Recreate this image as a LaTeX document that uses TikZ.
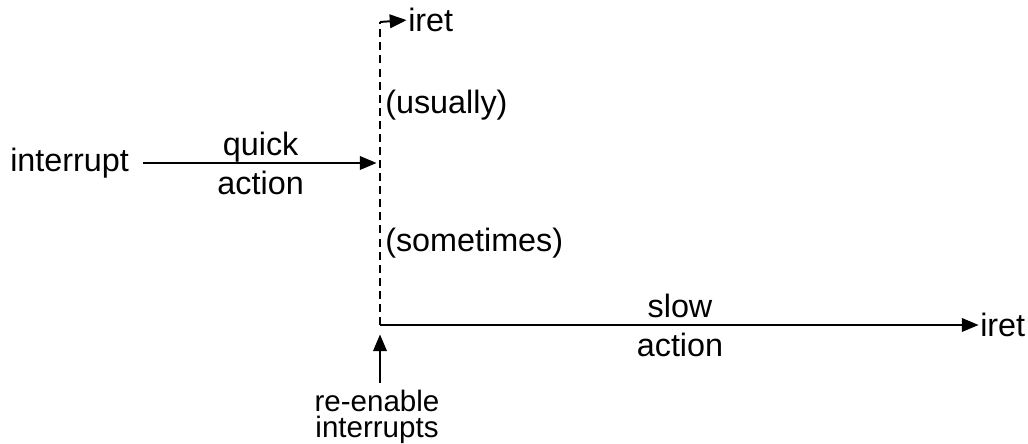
\documentclass[tikz,border=0pt]{standalone}
\usepackage{fontspec}
\setmainfont{Liberation Sans}
\usetikzlibrary{arrows.meta}

\begin{document}
\begin{tikzpicture}[x=0.025cm, y=-0.025cm,
    label/.style ={font=\fontsize{23}{20.5}\selectfont, inner sep=0pt},
    tag/.style ={label, text height=0.42cm, text depth=0.12cm},
    note/.style ={font=\fontsize{21}{18.5}\selectfont, inner sep=0pt, align=center},
    flow/.style ={line width=1.4pt, shorten >=1pt, -{Triangle[length=0.42cm, width=0.34cm]}},
    split/.style ={line width=1.4pt, dash pattern=on 5.7pt off 3.6pt}]
   \useasboundingbox (0,0) rectangle (1028,444);
   \node[label, anchor=west] (interrupt) at (10,163) {interrupt};
   \coordinate (Q) at (378,163);
   \coordinate (top) at (380,22);
   \coordinate (bot) at (380,325);
   \node[label, anchor=west] (iretA) at (408,20) {iret};
   \node[label, anchor=west] (iretB) at (980,325) {iret};
   \node[label, anchor=west] (usually) at (385,105) {(usually)};
   \node[label, anchor=west] (sometimes) at (385,243) {(sometimes)};
   \node[note, anchor=north] (reenable) at (377,390) {re-enable\\interrupts};
   \draw[flow] (reenable.north) ++(3,-7) -- ++(0,-50);
   \draw[flow] (interrupt.east) ++(14,0) -- node[tag, above=0.05cm] {quick} node[tag, below=0.35cm] {action} (Q);
   \draw[split] (bot) -- (top);
   \draw[flow] (top) -- (iretA.west);
   \draw[flow] (bot) -- node[tag, above=0.05cm] {slow} node[tag, below=0.35cm] {action} (iretB.west);
 \end{tikzpicture}
\end{document}
